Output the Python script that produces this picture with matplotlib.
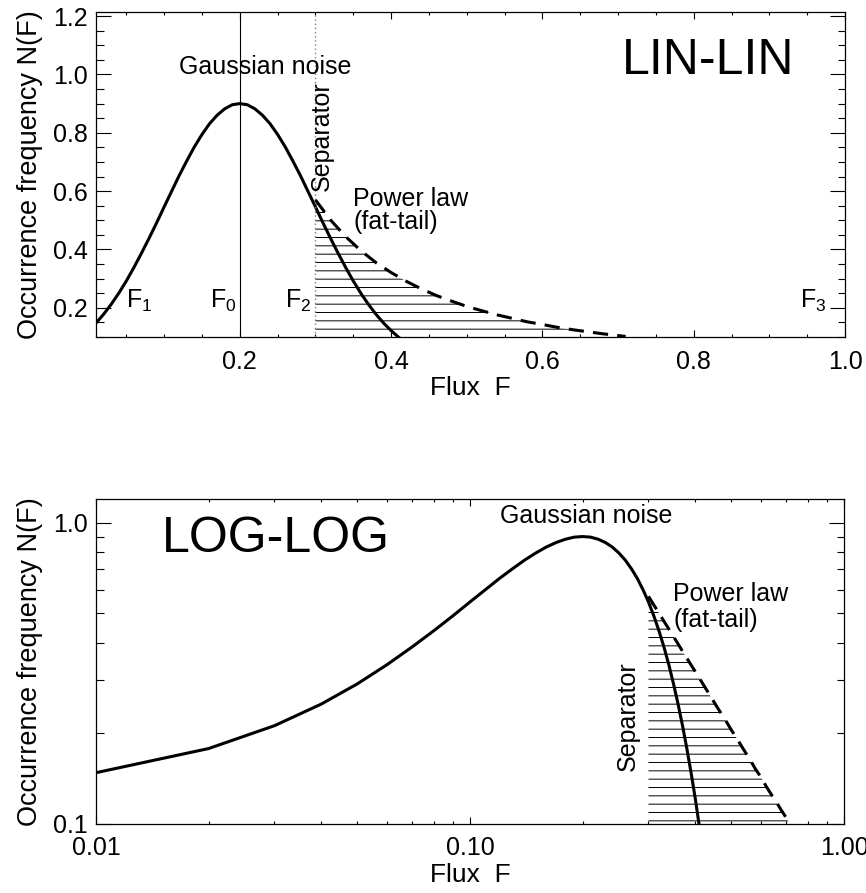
import numpy as np
import matplotlib
matplotlib.use("Agg")
import matplotlib.pyplot as plt
from matplotlib.ticker import MultipleLocator, FixedLocator, FixedFormatter, LogLocator, NullFormatter

plt.rcParams['font.family'] = ['Liberation Sans', 'DejaVu Sans']
plt.rcParams['mathtext.fontset'] = 'custom'
plt.rcParams['mathtext.rm'] = 'Liberation Sans'
plt.rcParams['mathtext.default'] = 'regular'
plt.rcParams['hatch.linewidth'] = 0.7

# gaussian noise part at steps of 0.01
flux_g = [0.01, 0.02, 0.03, 0.04, 0.05, 0.06, 0.07, 0.08, 0.09, 0.10,
          0.11, 0.12, 0.13, 0.14, 0.15, 0.16, 0.17, 0.18, 0.19, 0.20,
          0.21, 0.22, 0.23, 0.24, 0.25, 0.26, 0.27, 0.28, 0.29, 0.30,
          0.31, 0.32, 0.33, 0.34, 0.35, 0.36, 0.37, 0.38, 0.39, 0.40,
          0.41, 0.42]
n_gauss = [0.148, 0.178, 0.212, 0.250, 0.292, 0.338, 0.387, 0.438, 0.491, 0.546,
           0.600, 0.654, 0.704, 0.752, 0.794, 0.831, 0.860, 0.882, 0.896, 0.900,
           0.896, 0.882, 0.860, 0.831, 0.794, 0.752, 0.704, 0.654, 0.600, 0.546,
           0.491, 0.438, 0.387, 0.338, 0.292, 0.250, 0.212, 0.178, 0.148, 0.122,
           0.099, 0.080]

# power law tail (dashed)
flux_p = [0.30, 0.32, 0.34, 0.36, 0.38, 0.40, 0.42, 0.44, 0.46, 0.48, 0.50,
          0.52, 0.54, 0.56, 0.58, 0.60, 0.62, 0.64, 0.66, 0.68, 0.70, 0.71]
n_power = [0.570, 0.501, 0.444, 0.396, 0.355, 0.321, 0.291, 0.265, 0.242, 0.223, 0.205,
           0.190, 0.176, 0.164, 0.152, 0.143, 0.133, 0.125, 0.118, 0.111, 0.105, 0.102]

f_labels = ['F$_1$', 'F$_0$', 'F$_2$', 'F$_3$']
f_label_x = [0.05, 0.16, 0.26, 0.94]
f_peak = 0.2
f_sep = 0.3

fs = 18

fig = plt.figure(figsize=(8.66, 8.93), dpi=100)

def style_axes(ax):
    ax.tick_params(which='both', direction='in', top=True, right=True,
                   labelsize=fs, width=0.8, color='black')
    ax.tick_params(axis='x', which='major', length=5, pad=9)
    ax.tick_params(axis='x', which='minor', length=2.5)
    ax.tick_params(axis='y', which='major', length=10.8, pad=6)
    ax.tick_params(axis='y', which='minor', length=5.4)
    for s in ax.spines.values():
        s.set_linewidth(0.9)
    ax.set_xlabel('Flux  F', fontsize=19, labelpad=2)
    ax.set_ylabel('Occurrence frequency N(F)', fontsize=19.5, labelpad=7)

# ---- LIN-LIN ----
ax1 = fig.add_axes([0.1109, 0.6226, 0.8649, 0.3640])
ax1.fill_between(flux_p, 0.1, n_power, facecolor='none', edgecolor='black',
                 hatch='--', linewidth=0)
ax1.plot(flux_g, n_gauss, color='black', lw=2.2)
ax1.plot(flux_p, n_power, color='black', lw=2.2, dashes=(5, 3))
ax1.axvline(f_peak, color='black', lw=0.8)
ax1.axvline(f_sep, color='gray', lw=1.0, ls=(0, (1, 2)))
ax1.set_xlim(0.01, 1.0)
ax1.set_ylim(0.1, 1.214)
ax1.xaxis.set_major_locator(FixedLocator([0.2, 0.4, 0.6, 0.8, 1.0]))
ax1.xaxis.set_major_formatter(FixedFormatter(['0.2', '0.4', '0.6', '0.8', '1.0']))
ax1.xaxis.set_minor_locator(MultipleLocator(0.05))
ax1.yaxis.set_major_locator(FixedLocator([0.2, 0.4, 0.6, 0.8, 1.0, 1.2]))
ax1.yaxis.set_major_formatter(FixedFormatter(['0.2', '0.4', '0.6', '0.8', '1.0', '1.2']))
ax1.yaxis.set_minor_locator(MultipleLocator(0.05))
style_axes(ax1)

ax1.text(0.12, 1.0, 'Gaussian noise', fontsize=fs, va='baseline')
ax1.text(0.705, 1.0, 'LIN-LIN', fontsize=36, va='baseline')
ax1.text(0.308, 0.60, 'Separator', fontsize=fs, rotation=90, ha='center', va='bottom')
ax1.text(0.35, 0.55, 'Power law', fontsize=fs, va='baseline')
ax1.text(0.35, 0.47, '(fat-tail)', fontsize=fs, va='baseline')
for lab, xx in zip(f_labels, f_label_x):
    ax1.text(xx, 0.2, lab, fontsize=fs, va='baseline')

# ---- LOG-LOG ----
ax2 = fig.add_axes([0.1109, 0.0773, 0.8637, 0.3640])
ax2.set_xscale('log')
ax2.set_yscale('log')
ax2.fill_between(flux_p, 0.1, n_power, facecolor='none', edgecolor='black',
                 hatch='--', linewidth=0)
ax2.plot(flux_g, n_gauss, color='black', lw=2.2)
ax2.plot(flux_p, n_power, color='black', lw=2.2, dashes=(5, 3))
ax2.set_xlim(0.01, 1.0)
ax2.set_ylim(0.1, 1.2)
ax2.xaxis.set_major_locator(FixedLocator([0.01, 0.1, 1.0]))
ax2.xaxis.set_major_formatter(FixedFormatter(['0.01', '0.10', '1.00']))
ax2.xaxis.set_minor_locator(LogLocator(base=10, subs=np.arange(2, 10)))
ax2.xaxis.set_minor_formatter(NullFormatter())
ax2.yaxis.set_major_locator(FixedLocator([0.1, 1.0]))
ax2.yaxis.set_major_formatter(FixedFormatter(['0.1', '1.0']))
ax2.yaxis.set_minor_locator(LogLocator(base=10, subs=np.arange(2, 10)))
ax2.yaxis.set_minor_formatter(NullFormatter())
style_axes(ax2)

ax2.text(0.015, 0.8, 'LOG-LOG', fontsize=36, va='baseline')
ax2.text(0.12, 1.0, 'Gaussian noise', fontsize=fs, va='baseline')
ax2.text(0.264, 0.15, 'Separator', fontsize=fs, rotation=90, ha='center', va='bottom')
ax2.text(0.35, 0.55, 'Power law', fontsize=fs, va='baseline')
ax2.text(0.35, 0.45, '(fat-tail)', fontsize=fs, va='baseline')

fig.savefig('out.png', dpi=100)
